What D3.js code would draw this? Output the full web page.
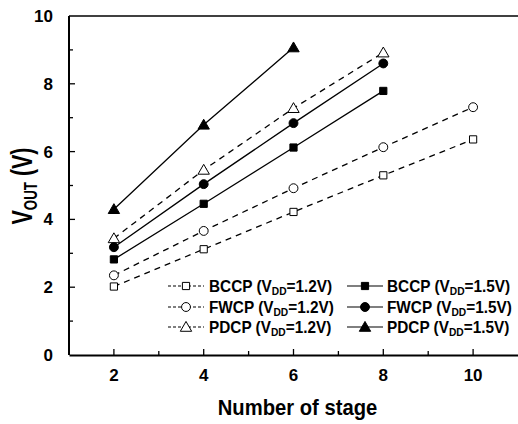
<!DOCTYPE html>
<html>
<head>
<meta charset="utf-8">
<script src="https://cdn.jsdelivr.net/npm/d3@7"></script>
<style>
  body { margin: 0; background: #fff; }
  svg text { font-family: "Liberation Sans", Arial, sans-serif; font-weight: bold; fill: #000; }
</style>
</head>
<body>
<svg id="drawing_region"></svg>
<script>
// stages on the x axis
const stages = [2, 4, 6, 8, 10];

// Vout (V)
const bccp12 = [2.02, 3.12, 4.22, 5.30, 6.36];
const fwcp12 = [2.35, 3.66, 4.92, 6.13, 7.31];
const pdcp12 = [3.44, 5.46, 7.28, 8.92];
const bccp15 = [2.82, 4.46, 6.12, 7.79];
const fwcp15 = [3.18, 5.04, 6.84, 8.60];
const pdcp15 = [4.30, 6.79, 9.07];

const seriesNames = ['BCCP', 'FWCP', 'PDCP', 'BCCP', 'FWCP', 'PDCP'];
const seriesVdd = ['1.2V', '1.2V', '1.2V', '1.5V', '1.5V', '1.5V'];

const xTicks = [2, 4, 6, 8, 10];
const yTicks = [0, 2, 4, 6, 8, 10];

const series = [
    {name: seriesNames[0], vdd: seriesVdd[0], values: bccp12, shape: 'square',   filled: false},
    {name: seriesNames[1], vdd: seriesVdd[1], values: fwcp12, shape: 'circle',   filled: false},
    {name: seriesNames[2], vdd: seriesVdd[2], values: pdcp12, shape: 'triangle', filled: false},
    {name: seriesNames[3], vdd: seriesVdd[3], values: bccp15, shape: 'square',   filled: true},
    {name: seriesNames[4], vdd: seriesVdd[4], values: fwcp15, shape: 'circle',   filled: true},
    {name: seriesNames[5], vdd: seriesVdd[5], values: pdcp15, shape: 'triangle', filled: true},
];

const width = 518, height = 424;
const margin = {top: 16, right: 0, bottom: 69, left: 69};

const svg = d3.select('#drawing_region')
    .attr('width', width)
    .attr('height', height);

const innerW = width - margin.left - margin.right;
const innerH = height - margin.top - margin.bottom;

const x = d3.scaleLinear().domain([1, 11]).range([margin.left, margin.left + innerW]);
const y = d3.scaleLinear().domain([0, 10]).range([margin.top + innerH, margin.top]);

const symbolType = {square: d3.symbolSquare, circle: d3.symbolCircle, triangle: d3.symbolTriangle};
const symbolSize = {square: 52, circle: 62, triangle: 56};

function drawMarker(g, s, cx, cy) {
    g.append('path')
        .attr('d', d3.symbol().type(symbolType[s.shape]).size(symbolSize[s.shape])())
        .attr('transform', `translate(${cx},${cy + (s.shape === 'triangle' ? 1 : 0)})`)
        .attr('fill', s.filled ? '#000' : '#fff')
        .attr('stroke', '#000')
        .attr('stroke-width', 1);
}

// x axis (ticks pointing inward)
const xAxis = d3.axisBottom(x).tickValues([]).tickSize(0);
svg.append('g')
    .attr('transform', `translate(0,${y(0)})`)
    .call(xAxis)
    .call(g => g.select('.domain').attr('stroke-width', 2));

svg.append('g').selectAll('line')
    .data(d3.range(2, 11))
    .enter()
    .append('line')
    .attr('x1', d => x(d)).attr('x2', d => x(d))
    .attr('y1', y(0)).attr('y2', d => y(0) - (d % 2 === 0 ? 6 : 4))
    .attr('stroke', '#000').attr('stroke-width', 1.3);

svg.append('g').selectAll('text')
    .data(xTicks)
    .enter()
    .append('text')
    .attr('x', d => x(d))
    .attr('y', y(0) + 26)
    .attr('text-anchor', 'middle')
    .style('font-size', '17px')
    .text(d => d);

// y axis line + top frame
svg.append('line')
    .attr('x1', x(1)).attr('x2', x(1))
    .attr('y1', y(0)).attr('y2', y(10))
    .attr('stroke', '#000').attr('stroke-width', 2);
svg.append('line')
    .attr('x1', x(1)).attr('x2', width)
    .attr('y1', y(10)).attr('y2', y(10))
    .attr('stroke', '#000').attr('stroke-width', 1.5);

svg.append('g').selectAll('line')
    .data(d3.range(1, 10))
    .enter()
    .append('line')
    .attr('x1', x(1)).attr('x2', d => x(1) + (d % 2 === 0 ? 6 : 4))
    .attr('y1', d => y(d)).attr('y2', d => y(d))
    .attr('stroke', '#000').attr('stroke-width', 1.3);

svg.append('g').selectAll('text')
    .data(yTicks)
    .enter()
    .append('text')
    .attr('x', x(1) - 16)
    .attr('y', d => y(d) + 6)
    .attr('text-anchor', 'end')
    .style('font-size', '17px')
    .text(d => d);

// axis titles (original font is condensed, so squeeze horizontally)
svg.append('text')
    .attr('transform', `translate(${(x(1) + width) / 2 + 4},415) scale(0.92,1)`)
    .attr('text-anchor', 'middle')
    .style('font-size', '22px')
    .text('Number of stage');

const yTitle = svg.append('text')
    .attr('transform', `translate(32,186) rotate(-90) scale(0.74,1)`)
    .attr('text-anchor', 'middle')
    .style('font-size', '29px');
yTitle.append('tspan').text('V');
yTitle.append('tspan').attr('dy', 5).style('font-size', '18px').text('OUT');
yTitle.append('tspan').attr('dy', -5).text(' (V)');

// data lines + markers
const line = d3.line()
    .x((d, i) => x(stages[i]))
    .y(d => y(d));

series.forEach(s => {
    svg.append('path')
        .datum(s.values)
        .attr('d', line)
        .attr('fill', 'none')
        .attr('stroke', '#000')
        .attr('stroke-width', 1.3)
        .attr('stroke-dasharray', s.filled ? null : '6,5');
});

series.forEach(s => {
    const g = svg.append('g');
    s.values.forEach((v, i) => drawMarker(g, s, x(stages[i]), y(v)));
});

// legend
const legendCols = [{lx: 168, tx: 209}, {lx: 347, tx: 387}];
const legendRows = [286, 307, 327];

series.forEach((s, i) => {
    const col = legendCols[Math.floor(i / 3)];
    const ry = legendRows[i % 3];
    const g = svg.append('g');
    g.append('line')
        .attr('x1', col.lx).attr('x2', col.lx + 36)
        .attr('y1', ry).attr('y2', ry)
        .attr('stroke', '#000').attr('stroke-width', 1.2)
        .attr('stroke-dasharray', s.filled ? null : '3,2');
    drawMarker(g, s, col.lx + 18, ry);
    const t = g.append('text')
        .attr('transform', `translate(${col.tx},${ry + 6}) scale(0.93,1)`)
        .style('font-size', '16.5px');
    t.append('tspan').text(`${s.name} (V`);
    t.append('tspan').attr('dy', 3).style('font-size', '11px').text('DD');
    t.append('tspan').attr('dy', -3).text(`=${s.vdd})`);
});
</script>
</body>
</html>
